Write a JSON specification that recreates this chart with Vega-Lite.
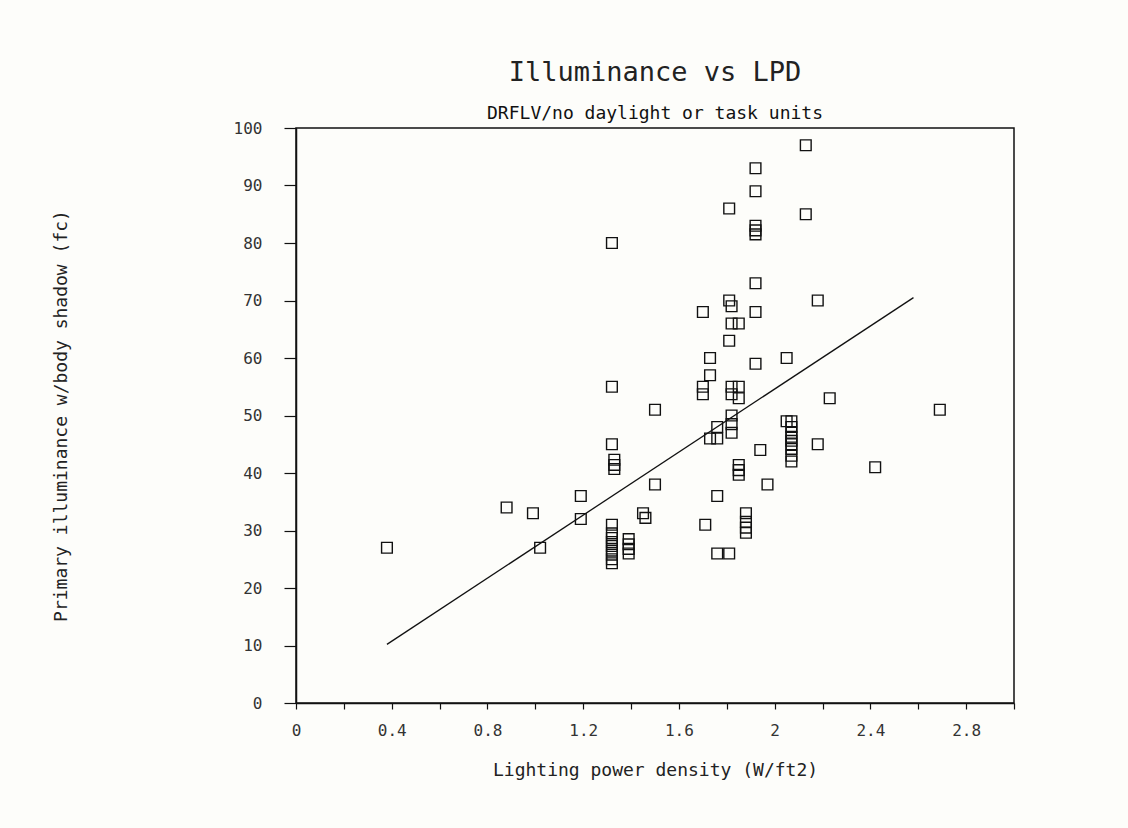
{
  "$schema": "https://vega.github.io/schema/vega-lite/v6.json",
  "width": 718,
  "height": 575,
  "autosize": {"type": "none"},
  "padding": {"left": 296, "top": 128, "right": 114, "bottom": 125},
  "background": "#fdfdfa",
  "title": {
    "text": "Illuminance vs LPD",
    "subtitle": "DRFLV/no daylight or task units",
    "anchor": "middle",
    "font": "DejaVu Sans Mono",
    "fontSize": 27,
    "fontWeight": "normal",
    "color": "#222",
    "subtitleFont": "DejaVu Sans Mono",
    "subtitleFontSize": 18,
    "subtitleColor": "#111",
    "subtitlePadding": 18,
    "offset": -4
  },
  "config": {
    "view": {"stroke": "#111", "strokeWidth": 1.5},
    "axis": {
      "domainColor": "#111",
      "domainWidth": 1.5,
      "tickColor": "#111",
      "tickWidth": 1.2,
      "grid": false,
      "labelFont": "DejaVu Sans Mono",
      "labelFontSize": 16,
      "labelColor": "#333",
      "titleFont": "DejaVu Sans Mono",
      "titleFontSize": 18,
      "titleFontWeight": "normal",
      "titleColor": "#222"
    }
  },
  "layer": [
    {
      "data": {
        "values": [
          {"lpd": 0.38, "illum": 27},
          {"lpd": 0.88, "illum": 34},
          {"lpd": 0.99, "illum": 33},
          {"lpd": 1.02, "illum": 27},
          {"lpd": 1.19, "illum": 36},
          {"lpd": 1.19, "illum": 32},
          {"lpd": 1.32, "illum": 80},
          {"lpd": 1.32, "illum": 55},
          {"lpd": 1.32, "illum": 45},
          {"lpd": 1.33, "illum": 42.3},
          {"lpd": 1.33, "illum": 41.4},
          {"lpd": 1.33, "illum": 40.7},
          {"lpd": 1.32, "illum": 31},
          {"lpd": 1.32, "illum": 29.5},
          {"lpd": 1.32, "illum": 28.7},
          {"lpd": 1.32, "illum": 28},
          {"lpd": 1.32, "illum": 27.3},
          {"lpd": 1.32, "illum": 26.5},
          {"lpd": 1.32, "illum": 25.8},
          {"lpd": 1.32, "illum": 25},
          {"lpd": 1.32, "illum": 24.3},
          {"lpd": 1.39, "illum": 28.5},
          {"lpd": 1.39, "illum": 27.6},
          {"lpd": 1.39, "illum": 26.8},
          {"lpd": 1.39, "illum": 26},
          {"lpd": 1.45, "illum": 33},
          {"lpd": 1.46, "illum": 32.2},
          {"lpd": 1.5, "illum": 51},
          {"lpd": 1.5, "illum": 38},
          {"lpd": 1.7, "illum": 68},
          {"lpd": 1.7, "illum": 55},
          {"lpd": 1.7, "illum": 53.7},
          {"lpd": 1.71, "illum": 31},
          {"lpd": 1.73, "illum": 60},
          {"lpd": 1.73, "illum": 57},
          {"lpd": 1.73, "illum": 46},
          {"lpd": 1.76, "illum": 48},
          {"lpd": 1.76, "illum": 46},
          {"lpd": 1.76, "illum": 36},
          {"lpd": 1.76, "illum": 26},
          {"lpd": 1.81, "illum": 86},
          {"lpd": 1.81, "illum": 70},
          {"lpd": 1.82, "illum": 69},
          {"lpd": 1.82, "illum": 66},
          {"lpd": 1.81, "illum": 63},
          {"lpd": 1.82, "illum": 55},
          {"lpd": 1.82, "illum": 53.7},
          {"lpd": 1.82, "illum": 50},
          {"lpd": 1.82, "illum": 48.5},
          {"lpd": 1.82, "illum": 47},
          {"lpd": 1.81, "illum": 26},
          {"lpd": 1.85, "illum": 66},
          {"lpd": 1.85, "illum": 55},
          {"lpd": 1.85, "illum": 53},
          {"lpd": 1.85, "illum": 41.4},
          {"lpd": 1.85, "illum": 40.5},
          {"lpd": 1.85, "illum": 39.7},
          {"lpd": 1.88, "illum": 33},
          {"lpd": 1.88, "illum": 31.5},
          {"lpd": 1.88, "illum": 30.5},
          {"lpd": 1.88, "illum": 29.6},
          {"lpd": 1.92, "illum": 93},
          {"lpd": 1.92, "illum": 89},
          {"lpd": 1.92, "illum": 83},
          {"lpd": 1.92, "illum": 82.2},
          {"lpd": 1.92, "illum": 81.5},
          {"lpd": 1.92, "illum": 73},
          {"lpd": 1.92, "illum": 68},
          {"lpd": 1.92, "illum": 59},
          {"lpd": 1.94, "illum": 44},
          {"lpd": 1.97, "illum": 38},
          {"lpd": 2.05, "illum": 60},
          {"lpd": 2.05, "illum": 49},
          {"lpd": 2.07, "illum": 49},
          {"lpd": 2.07, "illum": 48},
          {"lpd": 2.07, "illum": 47},
          {"lpd": 2.07, "illum": 46.3},
          {"lpd": 2.07, "illum": 45.6},
          {"lpd": 2.07, "illum": 45},
          {"lpd": 2.07, "illum": 44.2},
          {"lpd": 2.07, "illum": 43},
          {"lpd": 2.07, "illum": 42},
          {"lpd": 2.13, "illum": 97},
          {"lpd": 2.13, "illum": 85},
          {"lpd": 2.18, "illum": 70},
          {"lpd": 2.18, "illum": 45},
          {"lpd": 2.23, "illum": 53},
          {"lpd": 2.42, "illum": 41},
          {"lpd": 2.69, "illum": 51}
        ]
      },
      "mark": {"type": "point", "shape": "square", "filled": false, "size": 115, "stroke": "#111", "strokeWidth": 1.4, "opacity": 1},
      "encoding": {
        "x": {
          "field": "lpd",
          "type": "quantitative",
          "scale": {"domain": [0, 3], "nice": false, "zero": false},
          "axis": {
            "title": "Lighting power density (W/ft2)",
            "values": [0, 0.2, 0.4, 0.6, 0.8, 1, 1.2, 1.4, 1.6, 1.8, 2, 2.2, 2.4, 2.6, 2.8, 3],
            "labelExpr": "round(datum.value * 10) % 4 == 0 && datum.value < 2.9 ? format(datum.value, '.1~f') : ''",
            "tickSize": 6,
            "labelPadding": 13,
            "titlePadding": 23,
            "labelFlush": false
          }
        },
        "y": {
          "field": "illum",
          "type": "quantitative",
          "scale": {"domain": [0, 100], "nice": false},
          "axis": {
            "title": "Primary illuminance w/body shadow (fc)",
            "values": [0, 10, 20, 30, 40, 50, 60, 70, 80, 90, 100],
            "tickSize": 12,
            "labelPadding": 22,
            "titlePadding": 163,
            "labelFlush": false
          }
        }
      }
    },
    {
      "data": {
        "values": [
          {"lpd": 0.38, "illum": 10.2},
          {"lpd": 2.58, "illum": 70.5}
        ]
      },
      "mark": {"type": "line", "color": "#111", "strokeWidth": 1.3},
      "encoding": {
        "x": {"field": "lpd", "type": "quantitative"},
        "y": {"field": "illum", "type": "quantitative"}
      }
    }
  ]
}
